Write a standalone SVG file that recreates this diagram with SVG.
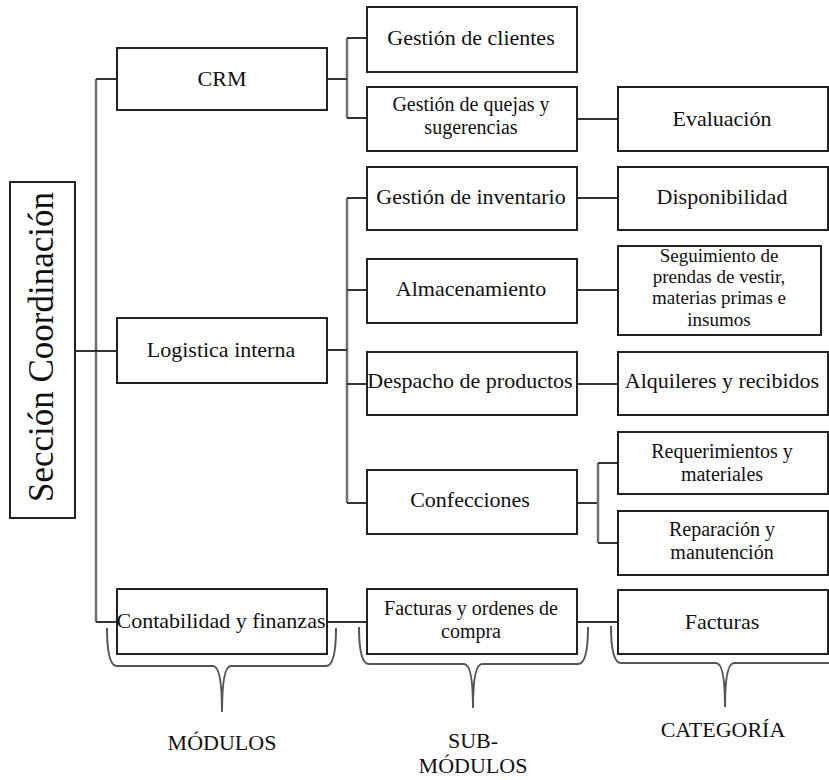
<svg xmlns="http://www.w3.org/2000/svg" width="829" height="780" viewBox="0 0 829 780" font-family="'Liberation Serif', 'DejaVu Serif', serif">
<style>
.box{fill:#fff;stroke:#222;stroke-width:2}
.t{font-family:'Liberation Serif','DejaVu Serif',serif;font-size:22px;fill:#111;text-anchor:middle}
.m{font-size:20px}
.h{stroke:#333;stroke-width:2;fill:none}
.v{stroke:#707070;stroke-width:2.5;fill:none}
.brace{stroke:#555;stroke-width:2;fill:none}
</style>
<rect width="829" height="780" fill="#fff"/>
<g id="connectors">
<path class="v" d="M96,79V622"/>
<path class="h" d="M96,79H117M75,351H117M96,622H117"/>
<path class="v" d="M347,38V118"/>
<path class="h" d="M327,79H347M347,38H367M347,118H367"/>
<path class="h" d="M577,119H618"/>
<path class="v" d="M347,198V503"/>
<path class="h" d="M327,350H347M347,198H367M347,290H367M347,384H367M347,503H367"/>
<path class="h" d="M577,198H618M577,290H618M577,384H618"/>
<path class="h" d="M577,503H598"/>
<path class="v" d="M598,463V543"/>
<path class="h" d="M598,463H618M598,543H618"/>
<path class="h" d="M327,622H367M577,622H618"/>
</g>
<g id="seccion">
<rect class="box" x="10" y="182" width="65" height="336"/>
<text class="t" style="font-size:35px" transform="translate(53,347) rotate(-90)">Sección Coordinación</text>
</g>
<g id="crm">
<rect class="box" x="117" y="48" width="210" height="62"/>
<text class="t" x="222" y="86">CRM</text>
</g>
<g id="logistica">
<rect class="box" x="117" y="318" width="210" height="65"/>
<text class="t" x="221" y="357">Logistica interna</text>
</g>
<g id="contabilidad">
<rect class="box" x="117" y="589" width="210" height="65"/>
<text class="t" x="221" y="628">Contabilidad y finanzas</text>
</g>
<g id="gestion-clientes">
<rect class="box" x="367" y="7" width="210" height="65"/>
<text class="t" x="471" y="45">Gestión de clientes</text>
</g>
<g id="gestion-quejas">
<rect class="box" x="367" y="87" width="210" height="64"/>
<text class="t m" x="471" y="111">Gestión de quejas y</text>
<text class="t m" x="471" y="134">sugerencias</text>
</g>
<g id="gestion-inventario">
<rect class="box" x="367" y="167" width="210" height="63"/>
<text class="t" x="471" y="204">Gestión de inventario</text>
</g>
<g id="almacenamiento">
<rect class="box" x="367" y="259" width="210" height="64"/>
<text class="t" x="471" y="296">Almacenamiento</text>
</g>
<g id="despacho">
<rect class="box" x="367" y="352" width="210" height="63"/>
<text class="t" x="470" y="388">Despacho de productos</text>
</g>
<g id="confecciones">
<rect class="box" x="367" y="470" width="210" height="64"/>
<text class="t" x="470" y="507">Confecciones</text>
</g>
<g id="facturas-ordenes">
<rect class="box" x="367" y="589" width="210" height="65"/>
<text class="t m" x="471" y="615">Facturas y ordenes de</text>
<text class="t m" x="471" y="638">compra</text>
</g>
<g id="evaluacion">
<rect class="box" x="618" y="87" width="210" height="64"/>
<text class="t" x="722" y="126">Evaluación</text>
</g>
<g id="disponibilidad">
<rect class="box" x="618" y="167" width="210" height="63"/>
<text class="t" x="722" y="204">Disponibilidad</text>
</g>
<g id="seguimiento">
<rect class="box" x="618" y="246" width="203" height="89"/>
<text class="t" style="font-size:19px" x="719" y="262">Seguimiento  de</text>
<text class="t" style="font-size:19px" x="719" y="283">prendas de vestir,</text>
<text class="t" style="font-size:19px" x="719" y="304">materias primas e</text>
<text class="t" style="font-size:19px" x="719" y="326">insumos</text>
</g>
<g id="alquileres">
<rect class="box" x="618" y="352" width="210" height="63"/>
<text class="t" x="722" y="388">Alquileres y recibidos</text>
</g>
<g id="requerimientos">
<rect class="box" x="618" y="432" width="210" height="62"/>
<text class="t m" x="722" y="458">Requerimientos y</text>
<text class="t m" x="722" y="481">materiales</text>
</g>
<g id="reparacion">
<rect class="box" x="618" y="511" width="210" height="64"/>
<text class="t m" x="722" y="536">Reparación y</text>
<text class="t m" x="722" y="559">manutención</text>
</g>
<g id="facturas">
<rect class="box" x="618" y="590" width="210" height="64"/>
<text class="t" x="722" y="629">Facturas</text>
</g>
<g id="brace-modulos">
<path class="brace" d="M107,628Q107,666 117,666L213,666Q222,666 222,712Q222,666 231,666L326,666Q336,666 336,628"/>
<text class="t" x="222" y="750">MÓDULOS</text>
</g>
<g id="brace-submodulos">
<path class="brace" d="M359,627Q359,664 369,664L464,664Q473,664 473,708Q473,664 482,664L578,664Q588,664 588,627"/>
<text class="t" x="473" y="748">SUB-</text>
<text class="t" x="473" y="773">MÓDULOS</text>
</g>
<g id="brace-categoria">
<path class="brace" d="M611,626Q611,663 621,663L716,663Q725,663 725,707Q725,663 734,663L845,663"/>
<text class="t" x="723" y="737">CATEGORÍA</text>
</g>
</svg>
